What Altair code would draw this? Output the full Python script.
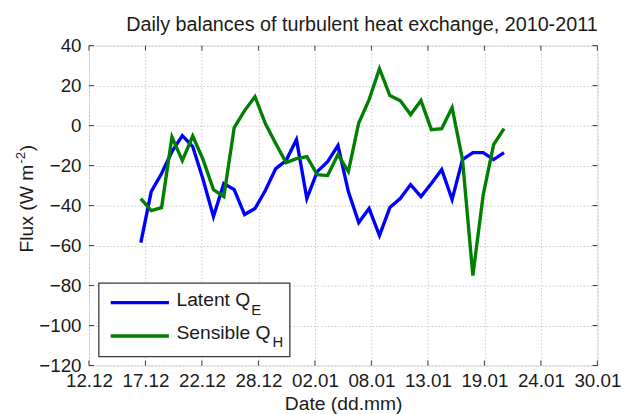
import altair as alt
import pandas as pd

# ---- data ----
days = [5, 6, 7, 8, 9, 10, 11, 12, 13, 14, 15, 16, 17, 18, 19, 20, 21, 22,
        23, 24, 25, 26, 27, 28, 29, 30, 31, 32, 33, 34, 35, 36, 37, 38, 39, 40]  # days after 12.12.2010
latent = [-58.5, -33, -24, -13, -5, -10.5, -27, -45.5, -29, -32, -44.5, -41.5,
          -32.5, -21.5, -17.5, -7, -36.5, -23, -18, -10, -33, -48.5, -41.5, -55,
          -41, -36.5, -29.5, -35.5, -29, -22, -37, -17, -13.5, -13.5, -17, -13.5]
sensible = [-36.5, -42.5, -41, -5.7, -17.5, -5.2, -17, -32, -35.5, -1, 7.5, 14.5,
            1, -9, -18.5, -16.5, -15.5, -24.5, -25, -14.5, -23, 1.3, 13, 28.5,
            15, 12.5, 5.5, 12.5, -2, -1.5, 9, -17, -75, -34.5, -9.5, -1.5]
x_tick_pos = [0, 5.444, 10.889, 16.333, 21.778, 27.222, 32.667, 38.111, 43.556, 49]
x_tick_labels = ["12.12", "17.12", "22.12", "28.12", "02.01",
                 "08.01", "13.01", "19.01", "24.01", "30.01"]
y_ticks = [-120, -100, -80, -60, -40, -20, 0, 20, 40]
title_text = "Daily balances of turbulent heat exchange, 2010-2011"

W, H = 515, 324
FONT = "Liberation Sans"
TXT = "#1a1a1a"
FRAME = "#3a3a3a"
BLUE = "#0000ff"
GREEN = "#007f00"

df = pd.DataFrame({"day": days, "latent": latent, "sensible": sensible})
xt = pd.DataFrame({"t": x_tick_pos})
yt = pd.DataFrame({"v": y_ticks})
one = pd.DataFrame({"a": [0]})

x_scale = alt.Scale(domain=[0, 49], nice=False, zero=False)
y_scale = alt.Scale(domain=[-120, 40], nice=False, zero=False)

label_expr = " : ".join(
    f"abs(datum.value - {p}) < 0.01 ? '{l}'" for p, l in zip(x_tick_pos, x_tick_labels)
) + " : ''"

x_axis = alt.Axis(values=x_tick_pos, labelExpr=label_expr, title="Date (dd.mm)",
                  grid=True, gridColor="#c8c8c8", gridDash=[1.5, 2], gridWidth=1,
                  ticks=False, domain=False, labelFontSize=19, labelFont=FONT,
                  labelColor=TXT, labelPadding=6, labelOverlap=False, labelFlush=False,
                  titleFontSize=19.5, titleFont=FONT, titleFontWeight="normal",
                  titleColor=TXT, titlePadding=5)
y_axis = alt.Axis(values=y_ticks, title=None, grid=True, gridColor="#c8c8c8",
                  gridDash=[1.5, 2], gridWidth=1, ticks=False, domain=False,
                  labelFontSize=19, labelFont=FONT, labelColor=TXT, labelPadding=8,
                  labelOverlap=False, labelFlush=False)

X = alt.X("day:Q", scale=x_scale, axis=x_axis)

blue = alt.Chart(df).mark_line(color=BLUE, strokeWidth=3.4).encode(
    x=X, y=alt.Y("latent:Q", scale=y_scale, axis=y_axis))
green = alt.Chart(df).mark_line(color=GREEN, strokeWidth=3.4).encode(
    x=X, y=alt.Y("sensible:Q", scale=y_scale, axis=y_axis))

XT = alt.X("t:Q", scale=x_scale, axis=x_axis)
YT = alt.Y("v:Q", scale=y_scale, axis=y_axis)
tick_b = alt.Chart(xt).mark_rule(color=FRAME, strokeWidth=1).encode(
    x=XT, y=alt.value(H), y2=alt.value(H - 5))
tick_t = alt.Chart(xt).mark_rule(color=FRAME, strokeWidth=1).encode(
    x=XT, y=alt.value(0), y2=alt.value(5))
tick_l = alt.Chart(yt).mark_rule(color=FRAME, strokeWidth=1).encode(
    y=YT, x=alt.value(0), x2=alt.value(5))
tick_r = alt.Chart(yt).mark_rule(color=FRAME, strokeWidth=1).encode(
    y=YT, x=alt.value(W - 5), x2=alt.value(W))

# legend
leg_box = alt.Chart(one).mark_rect(fill="white", stroke=FRAME, strokeWidth=1.3).encode(
    x=alt.value(10), x2=alt.value(203.5), y=alt.value(240.5), y2=alt.value(315))
leg_b = alt.Chart(one).mark_rule(color=BLUE, strokeWidth=3.4).encode(
    x=alt.value(22), x2=alt.value(81), y=alt.value(260.3))
leg_g = alt.Chart(one).mark_rule(color=GREEN, strokeWidth=3.4).encode(
    x=alt.value(22), x2=alt.value(81), y=alt.value(294.1))

def txt(s, x, y, size, angle=0, align="left", baseline="middle"):
    return alt.Chart(one).mark_text(text=s, font=FONT, fontSize=size, color=TXT,
                                    align=align, baseline=baseline, angle=angle).encode(
        x=alt.value(x), y=alt.value(y))

leg_t1 = txt("Latent Q", 88.6, 257.9, 19.5)
leg_s1 = txt("E", 164.5, 267.4, 15)
leg_t2 = txt("Sensible Q", 88.6, 291.4, 19.5)
leg_s2 = txt("H", 186, 300.3, 15)

# y-axis title composed (with superscript)
yl1 = txt("Flux (W m", -62.5, 209.5, 19.5, angle=270)
yl2 = txt("-2", -68.5, 119.5, 13.5, angle=270)
yl3 = txt(")", -62.5, 107, 19.5, angle=270)

# chart title
ttl = txt(title_text, W / 2 + 19, -14.5, 20, align="center", baseline="alphabetic")

chart = alt.layer(
    blue, green, tick_b, tick_t, tick_l, tick_r,
    leg_box, leg_b, leg_g, leg_t1, leg_s1, leg_t2, leg_s2, yl1, yl2, yl3, ttl
).properties(
    width=W, height=H,
    padding={"left": 82, "top": 35.5, "right": 29, "bottom": 46.5},
    autosize="none",
).configure_view(stroke=FRAME, strokeWidth=1).configure(background="white")

chart.save("out.html", embed_options={"renderer": "svg", "actions": False})
